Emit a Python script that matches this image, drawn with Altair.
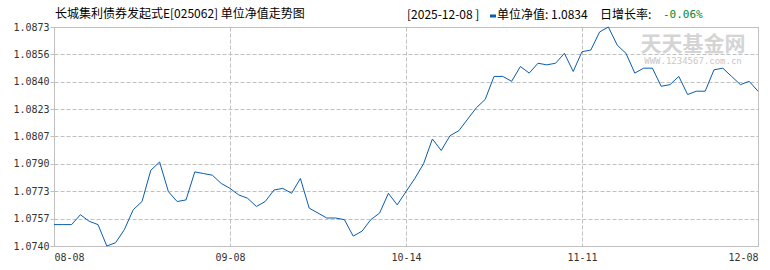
import json
import altair as alt
import pandas as pd

# ---- data ----
nav = [
    1.0753, 1.0753, 1.0753, 1.0759, 1.0755, 1.0753, 1.0740, 1.0742, 1.0750, 1.0762,
    1.0767, 1.0786, 1.0791, 1.0773, 1.0767, 1.0768, 1.0785, 1.0784, 1.0783, 1.0778,
    1.0775, 1.0771, 1.0769, 1.0764, 1.0767, 1.0774, 1.0775, 1.0772, 1.0781, 1.0763,
    1.0760, 1.0757, 1.0757, 1.0756, 1.0746, 1.0749, 1.0756, 1.0760, 1.0772, 1.0765,
    1.0773, 1.0781, 1.0790, 1.0805, 1.0798, 1.0807, 1.0810, 1.0817, 1.0824, 1.0829,
    1.0843, 1.0843, 1.0840, 1.0849, 1.0845, 1.0851, 1.0850, 1.0851, 1.0857, 1.0846,
    1.0858, 1.0859, 1.0870, 1.0873, 1.0862, 1.0857, 1.0845, 1.0848, 1.0848, 1.0837,
    1.0838, 1.0843, 1.0832, 1.0834, 1.0834, 1.0847, 1.0848, 1.0843, 1.0838, 1.0840,
    1.0834,
]
x_tick_labels = ["08-08", "09-08", "10-14", "11-11", "12-08"]
y_min, y_max = 1.0740, 1.0873
title_text = "长城集利债券发起式E[025062] 单位净值走势图"
header_date = "[2025-12-08 ]"
header_nav = "单位净值: 1.0834"
header_rate_label = "日增长率: "
header_rate = "-0.06%"
watermark_big = "天天基金网"
watermark_small = "WWW.1234567.com.cn"

n = len(nav)
step = (n - 1) / 4
x_tick_values = [round(i * step, 6) for i in range(5)]
y_tick_values = [round(y_min + i * (y_max - y_min) / 8, 6) for i in range(9)]

df = pd.DataFrame({"idx": list(range(n)), "nav": nav})

GRAY = "#c0c0c0"
LINE = "#0b5cad"
label_expr = json.dumps(x_tick_labels) + "[round(datum.value / %s)]" % step

line = alt.Chart(df).mark_line(color=LINE, strokeWidth=1).encode(
    x=alt.X(
        "idx:Q",
        scale=alt.Scale(domain=[0, n - 1], nice=False, zero=False),
        axis=alt.Axis(
            values=x_tick_values, labelExpr=label_expr, title=None,
            ticks=False, tickSize=0, labelPadding=6, labelFlush=True,
            grid=True, gridDash=[4, 2], gridColor=GRAY,
            domainColor=GRAY, labelFont="DejaVu Sans Mono", labelFontSize=10,
            labelColor="#333333",
        ),
    ),
    y=alt.Y(
        "nav:Q",
        scale=alt.Scale(domain=[y_min, y_max], nice=False, zero=False),
        axis=alt.Axis(
            values=y_tick_values, format=".4f", title=None,
            ticks=True, tickSize=4, tickColor=GRAY, labelPadding=1,
            grid=True, gridDash=[4, 2], gridColor=GRAY,
            domainColor=GRAY, labelFont="DejaVu Sans Mono", labelFontSize=10,
            labelColor="#333333",
        ),
    ),
)


def txt(s, x, y, color="#000000", size=12, font="Noto Sans CJK SC", align="left", weight="normal"):
    return alt.Chart(pd.DataFrame({"t": [s]})).mark_text(
        align=align, baseline="middle", color=color, fontSize=size, font=font,
        fontWeight=weight,
    ).encode(x=alt.value(x), y=alt.value(y), text="t:N")


wm1 = txt(watermark_big, 639, 18, color="#d4d4d4", size=21, align="center", weight="bold")
wm2 = txt(watermark_small, 639, 34, color="#c8c8c8", size=9, font="DejaVu Sans Mono", align="center")

title = txt(title_text, 1, -13)
h1 = txt(header_date, 353, -12)
dash = alt.Chart(pd.DataFrame({"t": [1]})).mark_rule(color=LINE, strokeWidth=3).encode(
    x=alt.value(436), x2=alt.value(442), y=alt.value(-11)
)
h2 = txt(header_nav, 443, -12)
h3 = txt(header_rate_label, 546, -12)
h4 = txt(header_rate, 609, -12, color="#008a2e", font="DejaVu Sans Mono", size=11)

chart = alt.layer(wm1, wm2, line, title, h1, dash, h2, h3, h4).properties(
    width=704,
    height=219,
    autosize=alt.AutoSizeParams(type="none"),
    padding={"left": 54, "top": 27, "right": 12, "bottom": 24},
    background="white",
).configure_view(stroke=GRAY, strokeWidth=1)

chart.save("out.html", embed_options={"renderer": "svg", "actions": False})
